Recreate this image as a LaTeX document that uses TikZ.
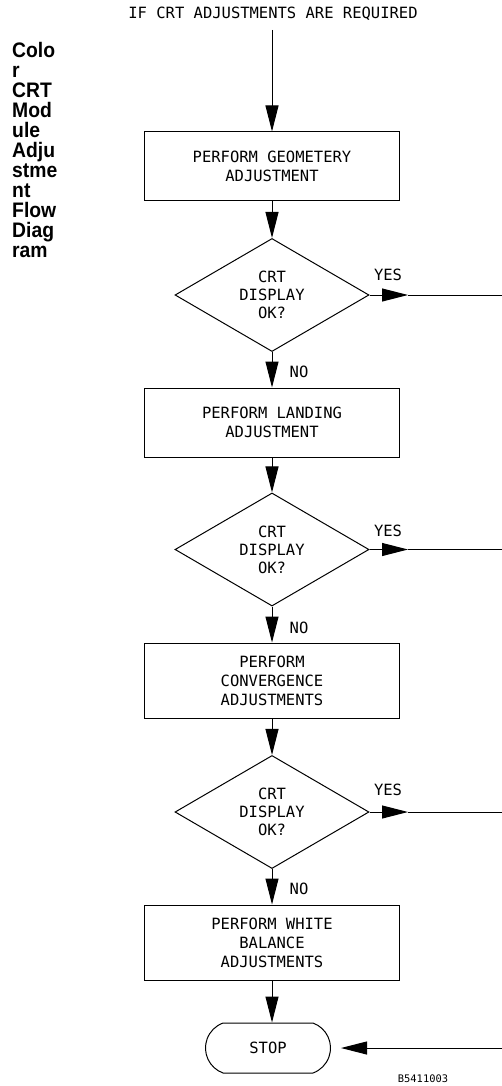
\documentclass[tikz,border=0pt]{standalone}
\usepackage{fontspec}
\usetikzlibrary{arrows.meta,shapes.geometric,shapes.misc}
\newfontfamily\plotfont{DejaVu Sans Mono}
\newfontfamily\titlefont[FakeStretch=0.92]{Liberation Sans}
\begin{document}
\begin{tikzpicture}[x=1pt,y=-1pt,
  every node/.style={font=\plotfont\fontsize{15.5}{19}\selectfont},
  box/.style={draw, line width=1pt, minimum width=255pt, inner sep=0pt, align=center},
  dec/.style={draw, line width=1pt, diamond, minimum width=194pt, minimum height=104pt, inner sep=0pt, align=center, font=\plotfont\fontsize{15.5}{18}\selectfont},
  term/.style={draw, line width=1pt, rounded rectangle, rounded rectangle arc length=140, minimum width=125pt, minimum height=50pt, inner sep=0pt},
  arr/.style={line width=1pt, -{Triangle[length=26pt,width=13pt]}},
  conn/.style={line width=1pt},
  lbl/.style={inner sep=0pt},
  code/.style={inner sep=0pt, font=\plotfont\fontsize{10.4}{12}\selectfont},
  ttl/.style={anchor=north west, inner sep=0pt, align=left, font=\titlefont\bfseries\fontsize{21}{20}\selectfont}
]
\useasboundingbox (0,0) rectangle (502,1086);

\node[ttl] (title) at (12,42) {Colo\\r\\CRT\\Mod\\ule\\Adju\\stme\\nt\\Flow\\Diag\\ram};

\node[lbl] (top) at (273,14) {IF CRT ADJUSTMENTS ARE REQUIRED};
\coordinate (s) at (272,30);

\node[box, minimum height=68pt] (b1) at (272,166) {PERFORM GEOMETERY\\ADJUSTMENT};
\node[dec] (d1) at (272,295) {CRT\\DISPLAY\\OK?};
\node[box, minimum height=69pt] (b2) at (272,422.5) {PERFORM LANDING\\ADJUSTMENT};
\node[dec] (d2) at (272,549.5) {CRT\\DISPLAY\\OK?};
\node[box, minimum height=75pt] (b3) at (272,680.5) {PERFORM\\CONVERGENCE\\ADJUSTMENTS};
\node[dec] (d3) at (272,812) {CRT\\DISPLAY\\OK?};
\node[box, minimum height=75pt] (b4) at (272,942.5) {PERFORM WHITE\\BALANCE\\ADJUSTMENTS};
\node[term] (stop) at (268,1048) {STOP};

\draw[arr] (s) -- (b1);
\draw[arr] (b1) -- (d1);
\draw[arr] (d1) -- (b2);
\draw[arr] (b2) -- (d2);
\draw[arr] (d2) -- (b3);
\draw[arr] (b3) -- (d3);
\draw[arr] (d3) -- (b4);
\draw[arr] (b4.south) -- (b4.south |- stop.north);

\node[lbl] (no1) at (299,372) {NO};
\node[lbl] (no2) at (299,628) {NO};
\node[lbl] (no3) at (299,889) {NO};

\coordinate (y1) at (408,295);   \coordinate (e1) at (502,295);
\coordinate (y2) at (408,549.5); \coordinate (e2) at (502,549.5);
\coordinate (y3) at (408,812);   \coordinate (e3) at (502,812);
\coordinate (e4) at (502,1048);
\draw[arr] (d1.east) -- (y1); \draw[conn] (y1) -- (e1);
\draw[arr] (d2.east) -- (y2); \draw[conn] (y2) -- (e2);
\draw[arr] (d3.east) -- (y3); \draw[conn] (y3) -- (e3);
\draw[arr] (e4) -- ([xshift=10pt]stop.east);

\node[lbl] (yes1) at (388,275) {YES};
\node[lbl] (yes2) at (388,531) {YES};
\node[lbl] (yes3) at (388,790) {YES};

\node[code] (fig) at (423,1079) {B5411003};
\end{tikzpicture}
\end{document}
